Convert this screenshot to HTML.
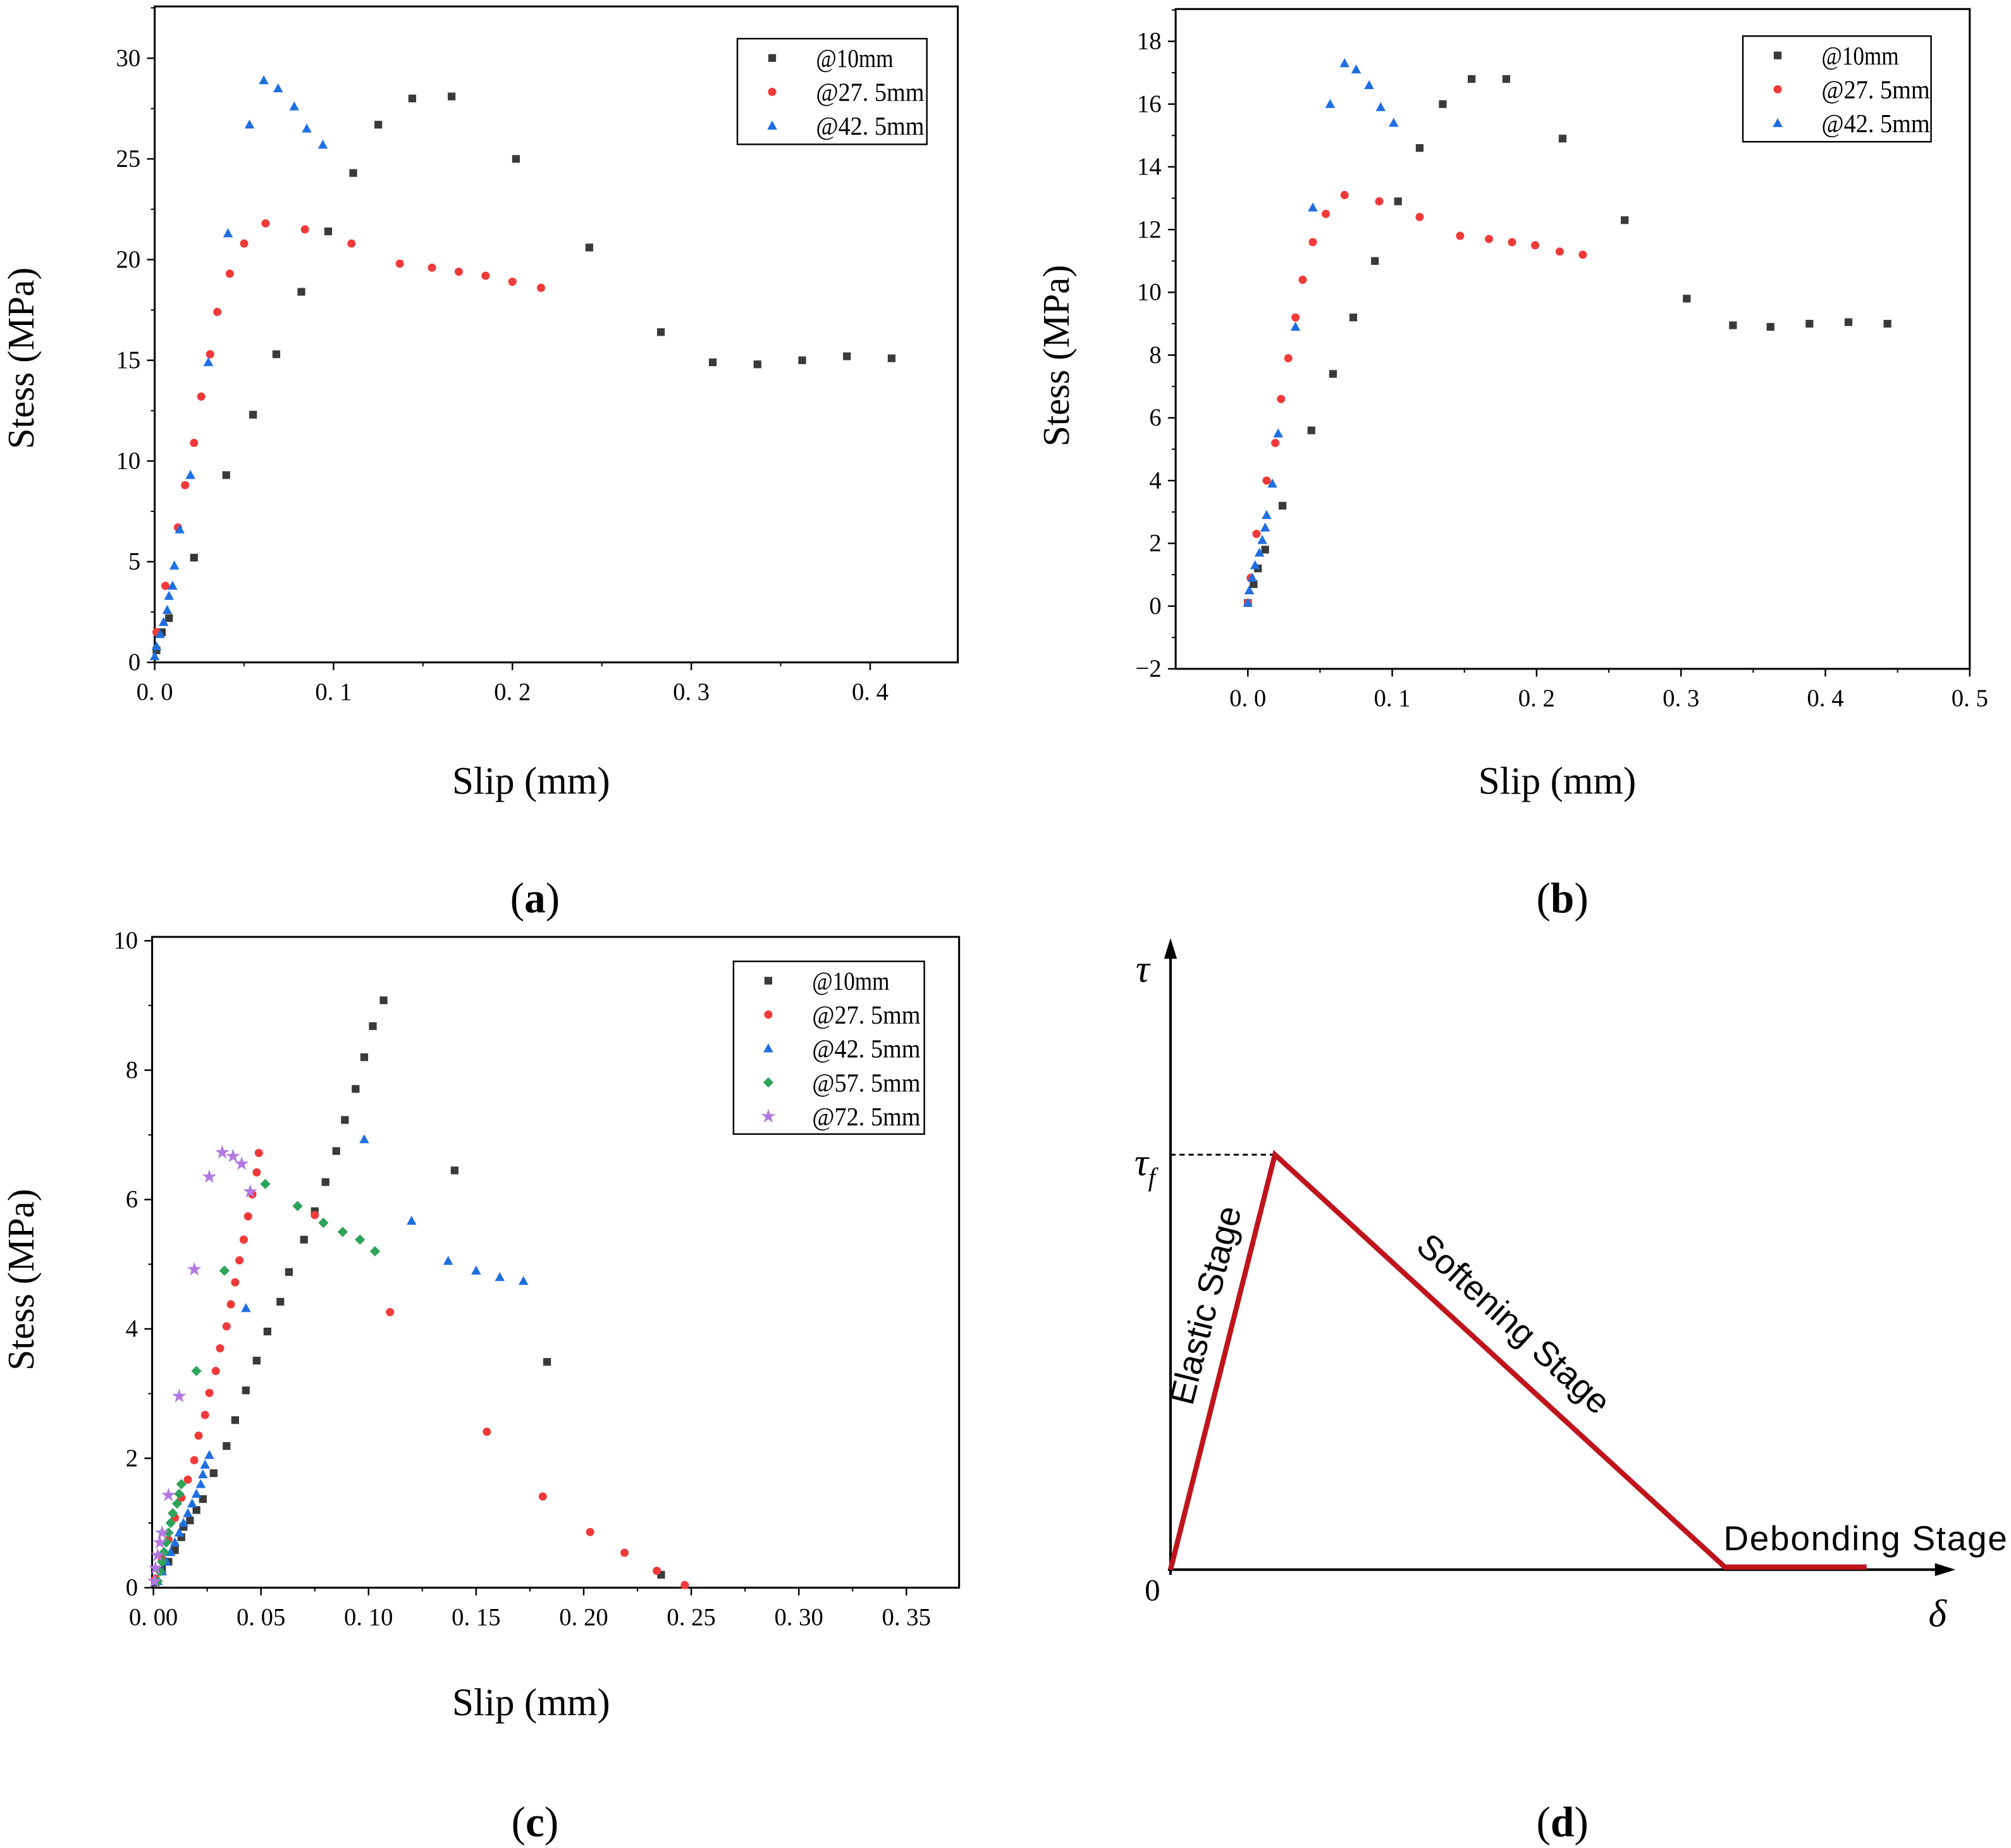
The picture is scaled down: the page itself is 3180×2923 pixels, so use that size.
<!DOCTYPE html>
<html><head><meta charset="utf-8"><style>
html,body{margin:0;padding:0;background:#fff;}
svg{display:block;}
text{font-family:"Liberation Serif","Noto Serif CJK SC",serif;}
</style></head><body>
<svg id="fig" width="3180" height="2923" viewBox="0 0 1560 1434" preserveAspectRatio="none" xmlns="http://www.w3.org/2000/svg">
<g id="pa"></g>
<g id="pb"></g>
<g id="pc"></g>
<g id="pd">
  <line x1="908" y1="1222" x2="908" y2="740" stroke="#000" stroke-width="2"/>
  <polygon points="908,728 903,744 913,744" fill="#000"/>
  <line x1="906" y1="1218" x2="1505" y2="1218" stroke="#000" stroke-width="2"/>
  <polygon points="1517,1218 1501,1213 1501,1223" fill="#000"/>
  <line x1="908" y1="896" x2="989" y2="896" stroke="#000" stroke-width="1.5" stroke-dasharray="4,3"/>
  <polyline points="908,1218 989,896 1338,1216 1448,1216" fill="none" stroke="#c0141c" stroke-width="4"/>
  <text x="881" y="762" font-size="30" font-style="italic">τ</text>
  <text x="880" y="912" font-size="30" font-style="italic">τ<tspan font-size="20" dy="8">f</tspan></text>
  <text x="888" y="1242" font-size="24" font-family="Liberation Sans,sans-serif">0</text>
  <text x="1496" y="1262" font-size="30" font-style="italic">δ</text>
  <text transform="translate(944,1015) rotate(-76)" text-anchor="middle" font-size="27" style="font-family:'Liberation Sans',sans-serif">Elastic Stage</text>
  <text transform="translate(1168,1034) rotate(42.5)" text-anchor="middle" font-size="27" style="font-family:'Liberation Sans',sans-serif">Softening Stage</text>
  <text x="1337" y="1203" font-size="27" textLength="220" style="font-family:'Liberation Sans',sans-serif">Debonding Stage</text>
</g>
<text x="415" y="708" text-anchor="middle" font-size="33">(<tspan font-weight="bold">a</tspan>)</text>
<text x="1212" y="708" text-anchor="middle" font-size="33">(<tspan font-weight="bold">b</tspan>)</text>
<text x="415" y="1425" text-anchor="middle" font-size="33">(<tspan font-weight="bold">c</tspan>)</text>
<text x="1212" y="1425" text-anchor="middle" font-size="33">(<tspan font-weight="bold">d</tspan>)</text>
</svg>
<script>
// ---- data ----
const a10 = [[0.001,0.6],[0.004,1.5],[0.008,2.2],[0.022,5.2],[0.040,9.3],[0.055,12.3],[0.068,15.3],[0.082,18.4],[0.097,21.4],[0.111,24.3],[0.125,26.7],[0.144,28.0],[0.166,28.1],[0.202,25.0],[0.243,20.6],[0.283,16.4],[0.312,14.9],[0.337,14.8],[0.362,15.0],[0.387,15.2],[0.412,15.1]];
const a275 = [[0.001,1.5],[0.006,3.8],[0.013,6.7],[0.017,8.8],[0.022,10.9],[0.026,13.2],[0.031,15.3],[0.035,17.4],[0.042,19.3],[0.050,20.8],[0.062,21.8],[0.084,21.5],[0.110,20.8],[0.137,19.8],[0.155,19.6],[0.170,19.4],[0.185,19.2],[0.200,18.9],[0.216,18.6]];
const a425 = [[0,0.3],[0.001,0.8],[0.003,1.4],[0.005,2.0],[0.007,2.6],[0.008,3.3],[0.010,3.8],[0.011,4.8],[0.014,6.6],[0.020,9.3],[0.030,14.9],[0.041,21.3],[0.053,26.7],[0.061,28.9],[0.069,28.5],[0.078,27.6],[0.085,26.5],[0.094,25.7]];
const b10 = [[0,0.1],[0.004,0.7],[0.007,1.2],[0.012,1.8],[0.024,3.2],[0.044,5.6],[0.059,7.4],[0.073,9.2],[0.088,11.0],[0.104,12.9],[0.119,14.6],[0.135,16.0],[0.155,16.8],[0.179,16.8],[0.218,14.9],[0.261,12.3],[0.304,9.8],[0.336,8.95],[0.362,8.9],[0.389,9.0],[0.416,9.05],[0.443,9.0]];
const b275 = [[0,0.1],[0.002,0.9],[0.006,2.3],[0.013,4.0],[0.019,5.2],[0.023,6.6],[0.028,7.9],[0.033,9.2],[0.038,10.4],[0.045,11.6],[0.054,12.5],[0.067,13.1],[0.091,12.9],[0.119,12.4],[0.147,11.8],[0.167,11.7],[0.183,11.6],[0.199,11.5],[0.216,11.3],[0.232,11.2]];
const b425 = [[0,0.1],[0.001,0.5],[0.003,0.9],[0.005,1.3],[0.008,1.7],[0.010,2.1],[0.012,2.5],[0.013,2.9],[0.017,3.9],[0.021,5.5],[0.033,8.9],[0.045,12.7],[0.057,16.0],[0.067,17.3],[0.075,17.1],[0.084,16.6],[0.092,15.9],[0.101,15.4]];
const c10 = [[0.001,0.08],[0.004,0.28],[0.007,0.4],[0.010,0.58],[0.013,0.78],[0.014,0.94],[0.017,1.04],[0.020,1.2],[0.023,1.37],[0.028,1.77],[0.034,2.19],[0.038,2.59],[0.043,3.05],[0.048,3.51],[0.053,3.96],[0.059,4.42],[0.063,4.88],[0.070,5.38],[0.075,5.82],[0.080,6.27],[0.085,6.75],[0.089,7.23],[0.094,7.71],[0.098,8.2],[0.102,8.68],[0.107,9.08],[0.140,6.45],[0.183,3.49],[0.236,0.2]];
const c275 = [[0.001,0.14],[0.004,0.44],[0.007,0.74],[0.010,1.08],[0.013,1.39],[0.016,1.67],[0.019,1.97],[0.021,2.35],[0.024,2.67],[0.026,3.01],[0.029,3.35],[0.031,3.7],[0.034,4.04],[0.036,4.38],[0.038,4.72],[0.040,5.06],[0.042,5.38],[0.044,5.74],[0.046,6.08],[0.048,6.42],[0.049,6.72],[0.075,5.76],[0.110,4.26],[0.155,2.41],[0.181,1.41],[0.203,0.86],[0.219,0.54],[0.234,0.26],[0.247,0.04]];
const c425 = [[0.002,0.1],[0.004,0.25],[0.006,0.4],[0.008,0.55],[0.010,0.7],[0.012,0.85],[0.014,1.0],[0.016,1.15],[0.018,1.3],[0.020,1.45],[0.022,1.6],[0.023,1.75],[0.024,1.9],[0.026,2.05],[0.043,4.32],[0.098,6.93],[0.120,5.67],[0.137,5.05],[0.150,4.9],[0.161,4.8],[0.172,4.74]];
const c575 = [[0.002,0.1],[0.003,0.25],[0.004,0.4],[0.005,0.55],[0.006,0.7],[0.007,0.85],[0.008,1.0],[0.009,1.15],[0.011,1.3],[0.012,1.45],[0.013,1.6],[0.020,3.35],[0.033,4.9],[0.052,6.24],[0.067,5.9],[0.079,5.64],[0.088,5.5],[0.096,5.38],[0.103,5.2]];
const c725 = [[0.0005,0.1],[0.001,0.3],[0.002,0.5],[0.003,0.7],[0.004,0.85],[0.007,1.43],[0.012,2.96],[0.019,4.92],[0.026,6.35],[0.032,6.73],[0.037,6.67],[0.041,6.55],[0.045,6.12]];
const aXTicks = ["0. 0","0. 1","0. 2","0. 3","0. 4"];
const aYTicks = ["0","5","10","15","20","25","30"];
const bXTicks = ["0. 0","0. 1","0. 2","0. 3","0. 4","0. 5"];
const bYTicks = ["−2","0","2","4","6","8","10","12","14","16","18"];
const cXTicks = ["0. 00","0. 05","0. 10","0. 15","0. 20","0. 25","0. 30","0. 35"];
const cYTicks = ["0","2","4","6","8","10"];
const legendA = ["@10mm","@27. 5mm","@42. 5mm"];
const legendC = ["@10mm","@27. 5mm","@42. 5mm","@57. 5mm","@72. 5mm"];

const NS="http://www.w3.org/2000/svg";
function mk(parent,tag,attrs,txt){const e=document.createElementNS(NS,tag);for(const k in attrs)e.setAttribute(k,attrs[k]);if(txt!==undefined)e.textContent=txt;parent.appendChild(e);return e;}
const STY={sq:{c:"#3a3a3a"},ci:{c:"#f03a3a"},tr:{c:"#1f6fe0"},di:{c:"#2ea35a"},st:{c:"#b27ae0"}};
function marker(g,type,x,y){
  const c=STY[type].c;let e;
  if(type==="sq")e=mk(g,"rect",{x:x-3,y:y-3,width:6,height:6,fill:c});
  else if(type==="ci")e=mk(g,"circle",{cx:x,cy:y,r:3.2,fill:c});
  else if(type==="tr")e=mk(g,"polygon",{points:`${x},${y-4} ${x-3.8},${y+3} ${x+3.8},${y+3}`,fill:c});
  else if(type==="di")e=mk(g,"polygon",{points:`${x},${y-4} ${x+4},${y} ${x},${y+4} ${x-4},${y}`,fill:c});
  else e=mk(g,"text",{x:x,y:y+4,"text-anchor":"middle","font-size":12,fill:c},"★");
  return e;
}
function panel(gid,cfg){
  const g=document.getElementById(gid);
  const X=v=>cfg.L+(v-cfg.x0)/(cfg.x1-cfg.x0)*(cfg.R-cfg.L);
  const Y=v=>cfg.B-(v-cfg.y0)/(cfg.y1-cfg.y0)*(cfg.B-cfg.T);
  const frame=mk(g,"rect",{x:cfg.L,y:cfg.T,width:cfg.R-cfg.L,height:cfg.B-cfg.T,fill:"none",stroke:"#000","stroke-width":1.5});
  
  
  cfg.xt.forEach((t,i)=>{const v=cfg.xs+i*cfg.xd,x=X(v);
    mk(g,"line",{x1:x,y1:cfg.B,x2:x,y2:cfg.B+6,stroke:"#000","stroke-width":1.2});
    const tx=mk(g,"text",{x:x,y:cfg.B+29,"text-anchor":"middle","font-size":19},t);
    
    
    const m=v+cfg.xd/2;if(m<cfg.x1){const xm=X(m);mk(g,"line",{x1:xm,y1:cfg.B,x2:xm,y2:cfg.B+3,stroke:"#000","stroke-width":1});}
    const m2=v-cfg.xd/2;if(i===0&&m2>cfg.x0){const xm=X(m2);mk(g,"line",{x1:xm,y1:cfg.B,x2:xm,y2:cfg.B+3,stroke:"#000","stroke-width":1});}
  });
  cfg.yt.forEach((t,i)=>{const v=cfg.ys+i*cfg.yd,y=Y(v);
    mk(g,"line",{x1:cfg.L,y1:y,x2:cfg.L-6,y2:y,stroke:"#000","stroke-width":1.2});
    const ty=mk(g,"text",{x:cfg.L-11,y:y+6,"text-anchor":"end","font-size":19},t);
    
    
    const m=v+cfg.yd/2;if(m<cfg.y1){const ym=Y(m);mk(g,"line",{x1:cfg.L,y1:ym,x2:cfg.L-3,y2:ym,stroke:"#000","stroke-width":1});}
  });
  const xl=mk(g,"text",{x:cfg.xlx,y:cfg.xly,"text-anchor":"middle","font-size":30},"Slip (mm)");
  
  
  const yl=mk(g,"text",{transform:`translate(${cfg.ylx},${cfg.yly}) rotate(-90)`,"text-anchor":"middle","font-size":29},"Stess (MPa)");
  
  
  cfg.series.forEach(s=>{
    const sg=mk(g,"g",{});
    
    
    s.data.forEach(p=>{const m=marker(sg,s.type,X(p[0]),Y(p[1]));
      
      });
  });
  const lg=mk(g,"g",{});
  
  
  mk(lg,"rect",{x:cfg.lx,y:cfg.ly,width:cfg.lw,height:cfg.lh,fill:"#fff",stroke:"#000","stroke-width":1.2});
  cfg.series.forEach((s,i)=>{const yy=cfg.ly+15+i*26.3;
    marker(lg,s.type,cfg.lx+27,yy);
    const lab=cfg.leg[i];
    const t=mk(lg,"text",{x:cfg.lx+61,y:yy+7,"font-size":20,textLength:lab.length>6?84:60,lengthAdjust:"spacingAndGlyphs"},lab);
    
    
  });
}
panel("pa",{L:120,R:743,T:5,B:514,x0:0,x1:0.449,y0:0,y1:32.57,xt:aXTicks,xs:0,xd:0.1,yt:aYTicks,ys:0,yd:5,
  xlx:412,xly:616,ylx:26,yly:278,lx:572,ly:30,lw:147,lh:82,leg:legendA,
  series:[{name:"10mm",type:"sq",data:a10},{name:"27-5mm",type:"ci",data:a275},{name:"42-5mm",type:"tr",data:a425}]});
panel("pb",{L:912,R:1528,T:7,B:519,x0:-0.05,x1:0.5,y0:-2,y1:19.03,xt:bXTicks,xs:0,xd:0.1,yt:bYTicks,ys:-2,yd:2,
  xlx:1208,xly:616,ylx:829,yly:276,lx:1352,ly:28,lw:146,lh:82,leg:legendA,
  series:[{name:"10mm",type:"sq",data:b10},{name:"27-5mm",type:"ci",data:b275},{name:"42-5mm",type:"tr",data:b425}]});
panel("pc",{L:118,R:744,T:727,B:1232,x0:-0.0006,x1:0.3745,y0:0,y1:10.06,xt:cXTicks,xs:0,xd:0.05,yt:cYTicks,ys:0,yd:2,
  xlx:412,xly:1331,ylx:26,yly:993,lx:569,ly:746,lw:148,lh:134,leg:legendC,
  series:[{name:"10mm",type:"sq",data:c10},{name:"27-5mm",type:"ci",data:c275},{name:"42-5mm",type:"tr",data:c425},{name:"57-5mm",type:"di",data:c575},{name:"72-5mm",type:"st",data:c725}]});
</script>
</body></html>
